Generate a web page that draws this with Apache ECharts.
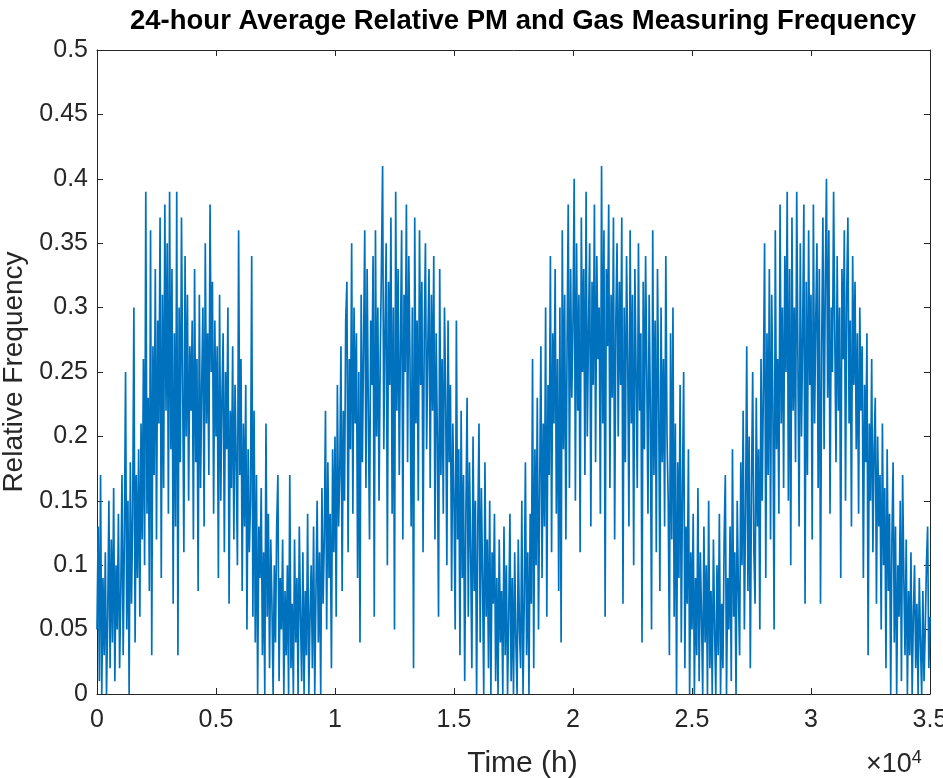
<!DOCTYPE html>
<html>
<head>
<meta charset="utf-8">
<script src="https://cdn.jsdelivr.net/npm/echarts@6/dist/echarts.min.js"></script>
<style>
html,body{margin:0;padding:0;background:#fff;}
#chart{width:943px;height:778px;}
</style>
</head>
<body>
<div id="chart"></div>
<script>
// Sampling grid: one value every 50 hours, from 0 h to 35000 h
var timeStepHours = 50;

// Relative frequency values, one row per 1000 h
var relFreq = [
0.05,0.13,0.01,0.17,0.0,0.09,0.03,0.11,0.0,0.06,0.15,0.02,0.12,0.04,0.16,0.01,0.10,0.05,0.14,0.02,
0.08,0.17,0.03,0.12,0.25,0.05,0.15,0.0,0.18,0.07,0.14,0.30,0.04,0.17,0.09,0.19,0.06,0.21,0.12,0.26,
0.10,0.39,0.14,0.23,0.08,0.36,0.03,0.27,0.17,0.33,0.12,0.29,0.21,0.37,0.09,0.31,0.16,0.38,0.22,0.35,
0.14,0.39,0.19,0.33,0.07,0.28,0.13,0.39,0.03,0.30,0.18,0.37,0.24,0.11,0.34,0.20,0.31,0.15,0.27,0.22,
0.29,0.12,0.33,0.18,0.26,0.08,0.31,0.16,0.24,0.30,0.13,0.35,0.21,0.28,0.17,0.38,0.25,0.32,0.14,0.29,
0.20,0.27,0.09,0.31,0.15,0.23,0.28,0.11,0.25,0.19,0.30,0.07,0.22,0.16,0.27,0.12,0.24,0.18,0.10,0.36,
0.17,0.26,0.08,0.21,0.13,0.24,0.05,0.19,0.11,0.15,0.34,0.06,0.22,0.04,0.17,0.0,0.13,0.09,0.16,0.03,
0.11,0.0,0.21,0.06,0.14,0.02,0.12,0.07,0.0,0.10,0.04,0.13,0.17,0.01,0.09,0.05,0.12,0.0,0.08,0.03,
0.10,0.0,0.17,0.02,0.07,0.0,0.12,0.04,0.09,0.0,0.13,0.06,0.01,0.11,0.0,0.08,0.03,0.14,0.0,0.06,
0.10,0.02,0.13,0.0,0.08,0.15,0.04,0.11,0.0,0.16,0.07,0.12,0.22,0.05,0.18,0.09,0.14,0.02,0.19,0.11,
0.20,0.06,0.24,0.13,0.17,0.27,0.08,0.22,0.15,0.29,0.32,0.11,0.26,0.19,0.35,0.14,0.30,0.21,0.28,0.09,
0.25,0.04,0.31,0.18,0.27,0.36,0.16,0.33,0.22,0.12,0.29,0.24,0.34,0.06,0.36,0.20,0.30,0.15,0.26,0.33,
0.41,0.19,0.28,0.35,0.10,0.32,0.24,0.37,0.14,0.30,0.05,0.39,0.22,0.33,0.17,0.27,0.36,0.12,0.31,0.25,
0.38,0.18,0.34,0.26,0.13,0.30,0.02,0.37,0.21,0.29,0.15,0.36,0.24,0.32,0.11,0.28,0.35,0.19,0.27,0.33,
0.16,0.31,0.22,0.34,0.12,0.28,0.20,0.06,0.33,0.17,0.26,0.14,0.30,0.23,0.10,0.29,0.18,0.24,0.08,0.21,
0.15,0.05,0.29,0.12,0.19,0.03,0.22,0.09,0.17,0.01,0.14,0.23,0.06,0.18,0.11,0.02,0.20,0.08,0.15,0.0,
0.13,0.21,0.04,0.16,0.09,0.0,0.18,0.06,0.12,0.02,0.15,0.0,0.11,0.07,0.14,0.01,0.09,0.0,0.12,0.04,
0.08,0.0,0.13,0.03,0.10,0.0,0.06,0.14,0.01,0.09,0.0,0.11,0.04,0.0,0.12,0.05,0.02,0.15,0.0,0.07,
0.18,0.03,0.11,0.0,0.14,0.07,0.26,0.02,0.19,0.10,0.23,0.05,0.16,0.27,0.09,0.21,0.13,0.30,0.06,0.24,
0.17,0.34,0.11,0.28,0.21,0.33,0.14,0.26,0.08,0.30,0.04,0.36,0.19,0.31,0.12,0.27,0.38,0.16,0.33,0.23,
0.29,0.40,0.15,0.35,0.22,0.31,0.11,0.37,0.25,0.33,0.17,0.39,0.20,0.28,0.35,0.13,0.32,0.24,0.38,0.18,
0.34,0.26,0.30,0.14,0.41,0.21,0.36,0.06,0.33,0.27,0.38,0.16,0.31,0.23,0.37,0.12,0.29,0.35,0.20,0.32,
0.24,0.37,0.07,0.30,0.18,0.34,0.26,0.13,0.36,0.21,0.31,0.10,0.33,0.25,0.16,0.35,0.22,0.28,0.04,0.32,
0.19,0.34,0.25,0.14,0.31,0.22,0.05,0.36,0.17,0.29,0.11,0.33,0.23,0.08,0.30,0.18,0.26,0.13,0.34,0.20,
0.15,0.03,0.28,0.12,0.30,0.06,0.21,0.0,0.18,0.09,0.24,0.04,0.16,0.25,0.02,0.13,0.07,0.19,0.0,0.11,
0.05,0.14,0.0,0.09,0.03,0.16,0.01,0.11,0.06,0.0,0.13,0.04,0.10,0.0,0.15,0.02,0.08,0.0,0.12,0.05,
0.0,0.10,0.03,0.14,0.0,0.07,0.02,0.12,0.17,0.0,0.09,0.05,0.13,0.01,0.19,0.06,0.11,0.0,0.15,0.08,
0.03,0.18,0.10,0.22,0.05,0.14,0.27,0.08,0.20,0.02,0.16,0.25,0.11,0.07,0.23,0.13,0.19,0.05,0.26,0.15,
0.24,0.35,0.09,0.28,0.17,0.33,0.12,0.31,0.22,0.05,0.36,0.19,0.26,0.14,0.38,0.21,0.30,0.16,0.34,0.25,
0.39,0.15,0.33,0.10,0.37,0.22,0.30,0.18,0.39,0.26,0.13,0.35,0.20,0.28,0.38,0.07,0.32,0.17,0.36,0.24,
0.31,0.12,0.38,0.21,0.29,0.35,0.16,0.33,0.07,0.27,0.37,0.19,0.32,0.40,0.23,0.36,0.14,0.30,0.25,0.39,
0.28,0.18,0.34,0.22,0.30,0.09,0.33,0.26,0.36,0.15,0.31,0.37,0.21,0.29,0.13,0.34,0.24,0.32,0.19,0.28,
0.14,0.30,0.22,0.27,0.09,0.24,0.18,0.28,0.03,0.21,0.15,0.26,0.11,0.19,0.23,0.07,0.20,0.13,0.17,0.05,
0.21,0.10,0.16,0.02,0.19,0.08,0.14,0.0,0.12,0.18,0.04,0.13,0.0,0.10,0.06,0.15,0.01,0.17,0.09,0.03,
0.12,0.0,0.08,0.03,0.11,0.0,0.06,0.10,0.02,0.07,0.0,0.09,0.04,0.0,0.08,0.01,0.05,0.10,0.13,0.02,
0.06
];

var xTicks = [0, 5000, 10000, 15000, 20000, 25000, 30000, 35000];
var yTicks = [0, 0.05, 0.1, 0.15, 0.2, 0.25, 0.3, 0.35, 0.4, 0.45, 0.5];

var titleText = '24-hour Average Relative PM and Gas Measuring Frequency';
var xName = 'Time (h)';
var yName = 'Relative Frequency';

var times = relFreq.map(function (v, i) { return i * timeStepHours; });
var seriesData = relFreq.map(function (v, i) { return [times[i], v]; });

var axisColor = '#262626';
var font = 'Liberation Sans, Arial, Helvetica, sans-serif';

function boxAxisLine() { return {show: true, onZero: false, lineStyle: {color: axisColor, width: 1}}; }
function boxTick() { return {show: true, inside: true, length: 6, lineStyle: {color: axisColor}}; }

var chart = echarts.init(document.getElementById('chart'), null, {renderer: 'canvas'});
var option = {
  animation: false,
  backgroundColor: '#ffffff',
  title: {
    text: titleText,
    left: 125,
    top: 2,
    textStyle: {fontFamily: font, fontSize: 27.5, fontWeight: 'bold', color: '#000'}
  },
  grid: {left: 97, right: 13, top: 50, bottom: 84, containLabel: false, outerBoundsMode: 'none'},
  xAxis: [{
    type: 'value', min: 0, max: 35000, interval: 5000, position: 'bottom',
    name: xName, nameLocation: 'middle', nameGap: 55,
    nameTextStyle: {fontFamily: font, fontSize: 30, color: axisColor, padding: [0, 0, 0, 18]},
    axisLine: boxAxisLine(),
    axisTick: boxTick(),
    axisLabel: {fontFamily: font, fontSize: 25, color: axisColor, margin: 14,
      formatter: function (v) { return String(v / 10000); }},
    splitLine: {show: false}
  }, {
    type: 'value', min: 0, max: 35000, interval: 5000, position: 'top',
    axisLine: boxAxisLine(),
    axisTick: boxTick(),
    axisLabel: {show: false}, splitLine: {show: false}
  }],
  yAxis: [{
    type: 'value', min: 0, max: 0.5, interval: 0.05, position: 'left',
    name: yName, nameLocation: 'middle', nameGap: 68, nameRotate: 90,
    nameTextStyle: {fontFamily: font, fontSize: 28, color: axisColor},
    axisLine: boxAxisLine(),
    axisTick: boxTick(),
    axisLabel: {fontFamily: font, fontSize: 25, color: axisColor, margin: 9,
      formatter: function (v) { return String(+v.toFixed(2)); }},
    splitLine: {show: false}
  }, {
    type: 'value', min: 0, max: 0.5, interval: 0.05, position: 'right',
    axisLine: boxAxisLine(),
    axisTick: boxTick(),
    axisLabel: {show: false}, splitLine: {show: false}
  }],
  series: [{
    type: 'line',
    xAxisIndex: 0, yAxisIndex: 0,
    data: seriesData,
    showSymbol: false,
    symbol: 'none',
    lineStyle: {color: '#0072BD', width: 1.7},
    itemStyle: {color: '#0072BD'},
    clip: true
  }],
  graphic: [{
    type: 'text',
    left: 866, top: 749,
    style: {
      text: '×10{s|4}',
      font: '27px ' + font,
      fill: axisColor,
      rich: {s: {fontSize: 18, verticalAlign: 'top', padding: [0, 0, 13, 0], fill: axisColor}}
    }
  }]
};
chart.setOption(option);
</script>
</body>
</html>
